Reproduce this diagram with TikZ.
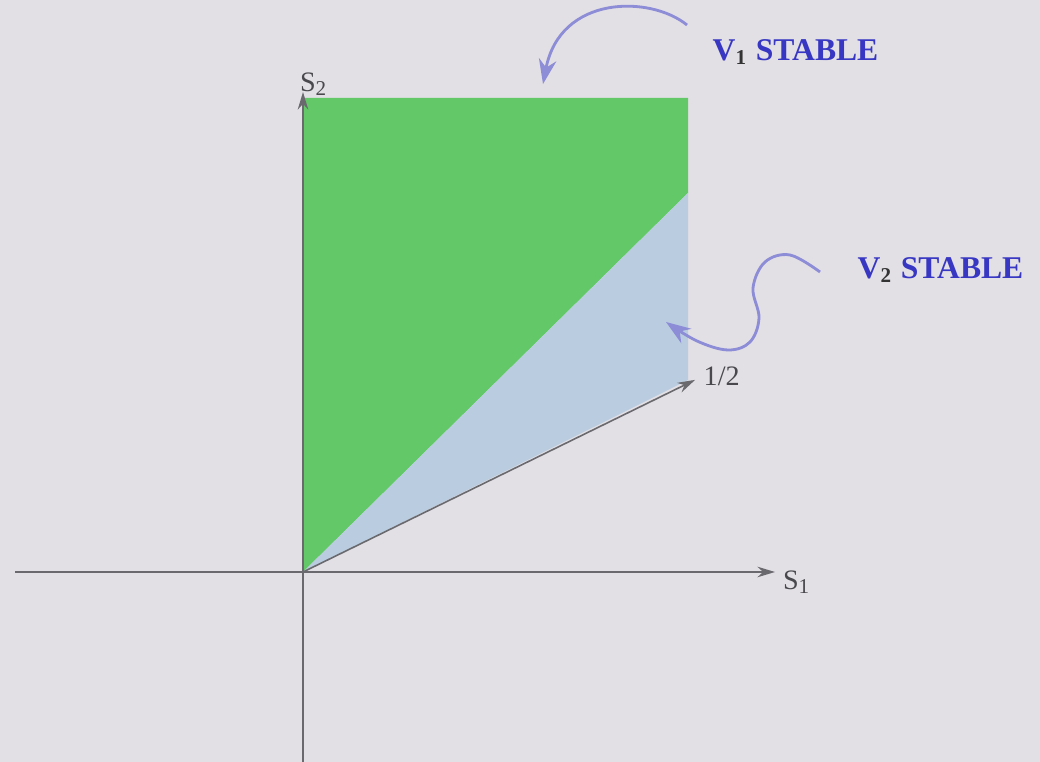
\documentclass[tikz,border=0pt]{standalone}
\usepackage{fontspec}
\setmainfont{Liberation Serif}
\usetikzlibrary{arrows.meta}
\definecolor{paper}{RGB}{226,223,229}
\definecolor{vgreen}{RGB}{98,200,104}
\definecolor{vblue}{RGB}{186,205,224}
\definecolor{curvecol}{RGB}{140,140,215}
\definecolor{textblue}{RGB}{55,55,195}
\definecolor{axiscol}{RGB}{105,105,110}
\tikzset{
  axis/.style={draw=axiscol,line width=0.45pt,-{Stealth[length=5pt,width=3pt]}},
  pointer/.style={draw=curvecol,line width=0.8pt,-{Stealth[length=7pt,width=5pt]}},
  stablelabel/.style={text=textblue,font=\fontsize{9}{10}\selectfont\bfseries,inner sep=0pt,anchor=west},
  axislabel/.style={text=axiscol!70!black,font=\fontsize{8}{9}\selectfont,inner sep=0pt}
}
\begin{document}
\begin{tikzpicture}[x=0.01cm,y=-0.01cm]
\fill[paper] (0,0) rectangle (1040,762);
\useasboundingbox (0,0) rectangle (1040,762);
\coordinate (O) at (303,572);
% stability regions
\fill[vgreen] (O) -- (303,98) -- (688,98) -- (688,193) -- cycle;
\fill[vblue] (O) -- (688,193) -- (688,380) -- cycle;
% axes
\coordinate (xl) at (15,572);
\coordinate (xr) at (775,572);
\coordinate (yb) at (303,762);
\coordinate (yt) at (303,92);
\draw[axis] (xl) -- (xr);
\draw[axis] (yb) -- (yt);
\node[axislabel] (s1) at (797,582) {S\textsubscript{1}};
\node[axislabel] (s2) at (314,84) {S\textsubscript{2}};
\node[axislabel,anchor=west] (half) at (703,376) {1/2};
\draw[axis,shorten >=2.5pt] (O) -- (half.west);
% labels
\node[stablelabel] (v1) at (712,52) {V\textsubscript{\color{black!80}1} STABLE};
\node[stablelabel] (v2) at (857,270) {V\textsubscript{\color{black!80}2} STABLE};
\coordinate (v1tail) at (687,25);
\coordinate (v1tip) at (543,84);
\draw[pointer] (v1tail) .. controls (650,-5) and (560,-5) .. (v1tip);
\coordinate (v2tail) at (820,272);
\coordinate (v2tip) at (666,322);
\draw[pointer] plot[smooth,tension=0.6] coordinates {(v2tail) (790,255) (765,262) (753,288) (759,318) (750,342) (728,350) (697,341) (v2tip)};
\end{tikzpicture}
\end{document}
